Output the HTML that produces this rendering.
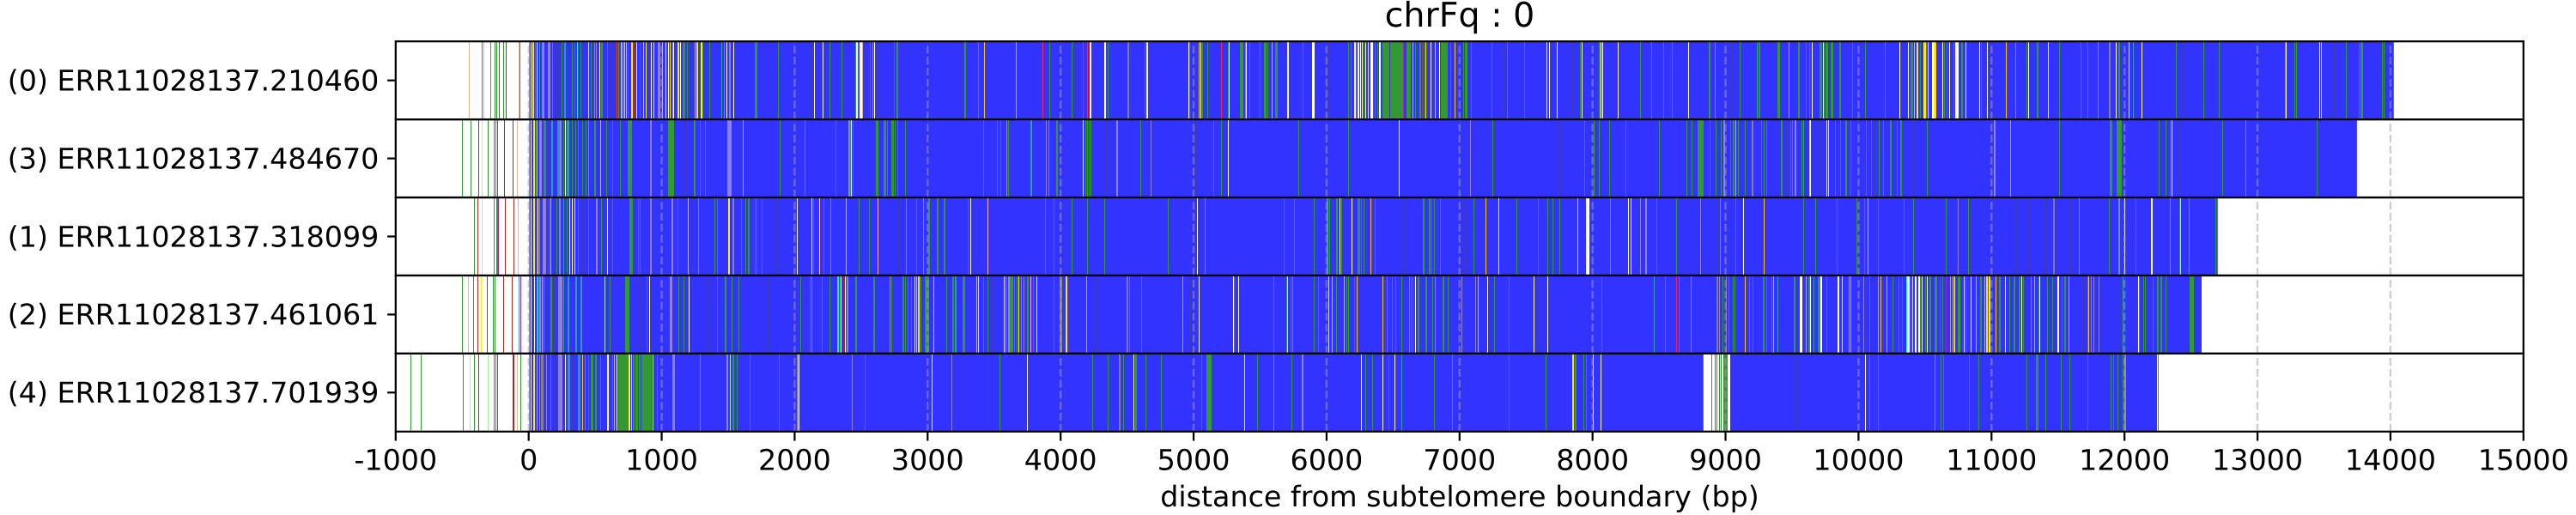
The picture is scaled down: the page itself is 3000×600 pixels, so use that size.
<!DOCTYPE html>
<html lang="en">
<head>
<meta charset="utf-8">
<title>chrFq : 0</title>
<style>
html,body{margin:0;padding:0;background:#fff;width:3000px;height:600px;overflow:hidden}
svg{display:block;text-rendering:geometricPrecision}
text{font-family:"DejaVu Sans","Liberation Sans",sans-serif;fill:#000}
</style>
</head>
<body>
<svg id="chart" xmlns="http://www.w3.org/2000/svg" width="3000" height="600" viewBox="0 0 3000 600">
<rect x="0" y="0" width="3000" height="600" fill="#fff"/>
<g id="panels"></g>
<g id="xaxis"></g>
<g id="yaxis"></g>
<text x="1700" y="31" font-size="39.6" text-anchor="middle">chrFq : 0</text>
<text x="1700" y="590" font-size="33.33" text-anchor="middle">distance from subtelomere boundary (bp)</text>
</svg>
<script>
const readLabels = ["(0) ERR11028137.210460","(3) ERR11028137.484670","(1) ERR11028137.318099","(2) ERR11028137.461061","(4) ERR11028137.701939"];
const readStarts = [5,5,5,5,5];
const readEnds = [14023,13748,12701,12580,12254];
const xTicks = [-1000,0,1000,2000,3000,4000,5000,6000,7000,8000,9000,10000,11000,12000,13000,14000,15000];
const guideLines = [0,1000,2000,3000,4000,5000,6000,7000,8000,9000,10000,11000,12000,13000,14000];

// each stripe: [start bp, length bp, k-mer class]
const read0Stripes = [[-447,6,'t'],[-350,6,'g'],[-340,6,'t'],[-286,6,'c'],[-254,6,'g'],[-241,6,'g'],[-221,6,'p'],[-189,6,'g'],[-172,6,'b'],[-77,6,'t'],[-67,8,'g'],
[17,6,'w'],[30,12,'y'],[47,6,'g'],[62,6,'w'],[80,6,'c'],[101,17,'l'],[144,22,'l'],[176,6,'c'],[198,6,'d'],[219,6,'d'],[247,6,'g'],[267,13,'c'],[295,6,'d'],[327,6,'g'],[344,6,'g'],[366,8,'a'],[391,6,'g'],[449,7,'w'],[467,6,'g'],[492,6,'l'],[505,6,'l'],[531,6,'w'],[542,10,'g'],[591,6,'g'],[606,6,'d'],[649,6,'d'],[660,6,'r'],[671,6,'g'],[692,6,'w'],[703,6,'y'],[720,6,'w'],[731,6,'y'],[746,6,'g'],[768,12,'y'],[789,6,'b'],[811,6,'w'],[838,6,'g'],[860,6,'y'],[881,6,'y'],[897,6,'d'],[918,6,'w'],[940,6,'w'],[972,22,'l'],[1002,6,'y'],[1026,6,'w'],[1047,6,'w'],[1058,6,'y'],[1079,15,'l'],[1090,6,'w'],[1116,12,'y'],[1140,6,'w'],[1161,22,'g'],[1193,6,'g'],[1219,6,'d'],[1251,6,'y'],[1264,10,'y'],[1294,10,'y'],[1305,6,'g'],[1359,6,'g'],[1451,7,'c'],[1466,6,'l'],[1484,6,'w'],[1509,10,'l'],[1542,6,'w'],
[1703,17,'g'],[1875,8,'g'],[2123,6,'d'],[2144,6,'w'],[2209,6,'w'],[2260,6,'g'],[2355,6,'g'],[2456,6,'g'],[2464,10,'w'],[2477,6,'g'],[2486,10,'w'],[2501,8,'w'],[2510,6,'t'],[2568,6,'g'],[2585,6,'l'],[2598,6,'w'],[2621,6,'d'],[2746,9,'r'],[2768,10,'g'],[3258,6,'d'],[3277,15,'g'],[3299,6,'d'],[3376,6,'w'],[3382,6,'c'],[3421,6,'o'],[3666,6,'o'],[3686,6,'d'],[3866,6,'r'],[3914,6,'g'],[4085,6,'g'],[4111,6,'d'],
[4168,6,'g'],[4202,6,'r'],[4217,11,'w'],[4329,11,'w'],[4355,6,'g'],[4505,13,'e'],[4630,6,'g'],[4645,11,'w'],[4789,6,'d'],[4959,6,'w'],[4966,6,'g'],[5041,6,'o'],[5054,6,'w'],[5064,6,'g'],[5103,6,'g'],[5204,6,'r'],[5258,6,'g'],[5267,6,'w'],[5348,28,'g'],[5387,6,'l'],[5396,7,'w'],[5419,6,'g'],[5499,6,'g'],[5527,17,'g'],[5555,6,'g'],[5589,6,'k'],[5615,17,'g'],[5703,11,'w'],[5817,6,'g'],[5892,20,'w'],[6010,6,'d'],
[6165,6,'g'],[6182,6,'g'],[6210,10,'w'],[6221,6,'g'],[6236,15,'w'],[6251,7,'w'],[6268,7,'w'],[6280,6,'g'],[6290,6,'w'],[6311,6,'w'],[6329,17,'w'],[6348,9,'p'],[6365,6,'g'],[6380,6,'g'],[6397,13,'w'],[6419,155,'g'],[6473,6,'d'],[6578,6,'p'],[6602,32,'g'],[6647,7,'k'],[6666,6,'g'],[6685,6,'d'],[6698,12,'g'],[6720,6,'p'],[6733,6,'g'],
[6746,7,'y'],[6779,6,'w'],[6813,6,'y'],[6830,6,'d'],[6847,6,'w'],[6860,54,'g'],[6931,6,'g'],[6946,6,'d'],[6963,6,'o'],[7028,6,'g'],[7043,21,'g'],[7086,6,'g'],[7241,6,'g'],[7340,6,'d'],[7357,6,'g'],[7488,6,'g'],[7630,6,'d'],[7654,6,'w'],[7671,6,'w'],[7731,6,'w'],[7841,6,'d'],[7907,6,'g'],[7917,6,'w'],[8046,15,'g'],[8060,6,'w'],[8075,6,'w'],[8191,6,'w'],[8359,6,'g'],[8441,6,'g'],[8531,6,'g'],[8595,6,'g'],[8718,6,'w'],[8875,10,'g'],[8918,6,'l'],[9043,6,'d'],[9105,6,'g'],[9176,6,'d'],[9236,6,'c'],[9247,10,'g'],
[9389,17,'g'],[9473,6,'a'],[9548,10,'g'],[9602,6,'g'],[9630,6,'g'],[9647,6,'w'],[9705,20,'g'],[9731,6,'w'],[9741,6,'g'],[9753,20,'g'],[9789,17,'g'],[9858,10,'g'],[9953,6,'g'],[9976,6,'d'],[10052,6,'g'],[10198,6,'g'],[10221,6,'d'],[10307,6,'w'],[10313,4,'p'],[10372,6,'w'],[10393,22,'g'],[10419,6,'y'],[10439,14,'y'],[10464,6,'g'],[10490,17,'y'],[10510,6,'g'],[10518,6,'w'],[10550,26,'w'],[10565,7,'y'],[10580,8,'o'],[10630,7,'w'],[10641,6,'g'],[10662,6,'g'],[10679,6,'w'],[10716,8,'g'],[10726,24,'w'],[10774,10,'g'],[10802,6,'w'],[10909,6,'w'],[10920,6,'g'],[10967,6,'w'],[11111,6,'o'],[11182,6,'l'],[11262,6,'g'],[11275,9,'w'],[11339,13,'g'],[11425,6,'w'],[11505,6,'g'],[11672,6,'g'],[11724,6,'g'],[11784,6,'d'],[11801,6,'l'],[11881,11,'e'],
[11935,8,'w'],[11953,10,'g'],[12030,6,'w'],[12062,6,'c'],[12131,6,'w'],[12389,6,'g'],[12441,6,'d'],[12596,6,'g'],[12712,6,'g'],[13206,6,'l'],[13215,6,'w'],[13258,6,'d'],[13275,6,'g'],[13290,7,'g'],[13462,6,'w'],[13479,6,'n'],[13576,6,'d'],[13666,6,'g'],[13759,6,'g'],[13776,17,'g'],[13937,6,'g'],[13948,6,'g'],[14017,6,'g']];

const read1Stripes = [[-501,6,'g'],[-436,6,'g'],[-378,6,'b'],[-353,6,'y'],[-307,6,'g'],[-262,6,'g'],[-249,6,'g'],[-236,6,'p'],[-183,6,'b'],[-120,6,'b'],[-86,6,'t'],
[17,6,'w'],[32,14,'y'],[52,6,'g'],[62,6,'a'],[80,20,'l'],[112,20,'g'],[145,6,'d'],[170,16,'c'],[215,20,'c'],[236,14,'l'],[262,6,'g'],[273,7,'w'],[284,22,'c'],[322,6,'g'],[348,6,'g'],[370,6,'g'],[402,6,'g'],[430,6,'g'],[445,6,'l'],[492,12,'g'],[537,6,'y'],[555,6,'d'],[585,6,'g'],[628,6,'g'],[684,6,'g'],[746,32,'g'],[914,11,'l'],[1047,43,'g'],[1176,6,'d'],[1245,13,'g'],[1284,6,'g'],[1327,6,'g'],[1363,6,'d'],[1402,6,'d'],[1492,30,'l'],
[1609,6,'a'],[1886,6,'g'],[2073,6,'c'],[2305,6,'g'],[2402,10,'l'],[2417,8,'g'],[2426,7,'w'],[2434,7,'g'],[2611,10,'g'],[2626,6,'g'],[2667,18,'g'],[2692,6,'g'],[2725,17,'g'],[2752,6,'g'],[2772,6,'g'],[2828,6,'g'],[2925,6,'d'],[3415,6,'g'],[3505,6,'d'],[3520,6,'g'],[3544,6,'g'],[3595,6,'l'],[3608,6,'g'],[3770,16,'c'],[3892,6,'l'],[3907,6,'l'],[3965,13,'g'],[4079,6,'d'],
[4166,6,'w'],[4187,6,'g'],[4200,6,'g'],[4215,6,'g'],[4226,6,'g'],[4344,6,'d'],[4420,11,'l'],[4602,6,'g'],[4680,6,'l'],[4841,6,'d'],[5015,6,'d'],[5150,6,'g'],[5208,6,'g'],[5260,6,'w'],[5789,6,'g'],[6163,6,'g'],[6544,6,'w'],[6595,6,'d'],
[7080,6,'l'],[7249,6,'g'],[7258,6,'d'],[7750,6,'d'],[7937,6,'g'],[8009,6,'g'],[8047,6,'g'],[8124,6,'g'],[8247,6,'g'],[8499,6,'g'],[8705,6,'g'],[8744,6,'g'],[8787,43,'g'],[8800,10,'g'],[8879,6,'g'],[8924,6,'g'],[8965,6,'g'],[8982,10,'l'],[9010,6,'d'],[9032,6,'g'],[9053,10,'g'],[9072,6,'k'],[9094,6,'g'],[9146,6,'g'],[9197,15,'e'],[9269,6,'g'],[9290,6,'g'],[9305,6,'g'],
[9413,12,'g'],[9454,6,'d'],[9487,6,'g'],[9502,6,'c'],[9518,12,'l'],[9570,6,'g'],[9585,6,'c'],[9632,6,'y'],[9638,8,'w'],[9699,6,'d'],[9759,6,'w'],[9770,6,'w'],[9822,6,'g'],[9860,6,'g'],[9903,10,'g'],[9938,6,'g'],[10054,6,'g'],[10092,6,'g'],[10112,6,'d'],[10150,6,'g'],[10183,6,'g'],[10239,12,'g'],[10290,6,'g'],[10316,10,'g'],[10411,6,'d'],[10512,6,'g'],[11017,12,'l'],[11137,6,'a'],[11511,6,'g'],[11595,6,'d'],[11888,17,'g'],
[11942,17,'g'],[11957,14,'g'],[11974,6,'g'],[12254,6,'g'],[12312,6,'g'],[12338,6,'g'],[12355,6,'w'],[12396,6,'d'],[12421,6,'d'],[12733,6,'g'],[12911,6,'l'],[13447,6,'g']];

const read2Stripes = [[-411,6,'g'],[-385,6,'b'],[-353,6,'y'],[-262,6,'g'],[-245,10,'g'],[-232,6,'p'],[-178,6,'b'],[-114,6,'b'],[-82,6,'t'],
[17,6,'w'],[32,14,'y'],[58,6,'g'],[69,6,'w'],[80,6,'l'],[105,30,'l'],[133,6,'d'],[148,6,'g'],[161,6,'y'],[181,6,'d'],[208,6,'g'],[226,6,'l'],[236,6,'l'],[262,6,'c'],[284,6,'g'],[307,6,'w'],[327,6,'w'],[344,8,'w'],[370,6,'g'],[402,6,'d'],[445,6,'g'],[505,11,'l'],[542,6,'g'],[589,6,'w'],[611,6,'d'],[628,6,'g'],[757,25,'g'],[823,8,'g'],[838,6,'g'],[914,11,'l'],[1071,13,'l'],[1118,6,'g'],[1196,6,'y'],[1213,6,'d'],[1277,6,'l'],[1396,6,'g'],[1417,6,'g'],[1501,10,'y'],[1535,16,'l'],
[1596,6,'g'],[1628,6,'g'],[1650,12,'g'],[1703,6,'g'],[1716,6,'g'],[1751,6,'g'],[1815,6,'d'],[1860,6,'d'],[2019,6,'w'],[2129,8,'w'],[2138,6,'g'],[2187,6,'k'],[2215,6,'g'],[2271,6,'l'],[2383,6,'k'],[2482,6,'g'],[2557,6,'g'],[2621,6,'k'],[2778,6,'d'],[2834,6,'l'],[2912,6,'g'],[2963,6,'l'],[3002,15,'g'],[3069,12,'g'],[3122,11,'g'],[3299,6,'g'],[3324,6,'w'],[3453,6,'k'],[3881,6,'g'],[3950,6,'g'],[4085,6,'g'],
[4168,6,'d'],[4200,6,'g'],[4331,6,'g'],[4809,6,'g'],[5028,6,'w'],[5086,6,'l'],[5679,6,'g'],[5757,6,'g'],[5905,6,'g'],[5998,15,'c'],[6021,6,'g'],[6069,10,'g'],[6099,6,'w'],[6112,6,'g'],[6185,6,'w'],[6230,22,'g'],[6258,6,'g'],[6279,6,'g'],[6333,6,'o'],[6363,6,'g'],[6574,8,'d'],[6635,6,'d'],[6722,11,'g'],
[6768,10,'g'],[6790,6,'g'],[6809,6,'g'],[6852,6,'g'],[7037,6,'d'],[7103,8,'g'],[7196,6,'o'],[7292,6,'w'],[7428,6,'g'],[7589,6,'g'],[7660,6,'g'],[7699,6,'g'],[7750,6,'g'],[7886,6,'k'],[7953,26,'w'],[8131,6,'l'],[8269,6,'w'],[8283,6,'w'],[8359,6,'l'],[8393,11,'l'],[8479,6,'g'],[8630,6,'g'],[8808,6,'l'],[8939,6,'d'],[8956,6,'l'],[9072,6,'g'],[9131,6,'w'],[9288,6,'o'],
[9583,6,'g'],[9674,6,'g'],[9834,6,'g'],[9985,6,'g'],[10041,6,'g'],[10067,6,'n'],[10144,6,'g'],[10316,6,'d'],[10340,6,'g'],[10408,6,'g'],[10654,6,'g'],[10744,6,'l'],[10823,6,'g'],[10838,6,'d'],[11185,6,'d'],[11275,6,'d'],[11404,6,'d'],[11462,10,'e'],[11584,6,'d'],[11659,6,'l'],[11881,6,'g'],
[11953,12,'s'],[12002,6,'w'],[12086,6,'g'],[12198,12,'w'],[12344,6,'l'],[12411,6,'g'],[12421,6,'k'],[12482,6,'l'],[12686,6,'g']];

const read3Stripes = [[-501,6,'g'],[-456,6,'t'],[-417,6,'g'],[-385,6,'b'],[-357,6,'y'],[-314,6,'p'],[-267,6,'g'],[-254,6,'g'],[-189,6,'b'],[-127,6,'b'],[-77,6,'c'],[-62,6,'p'],
[15,6,'w'],[43,8,'w'],[58,6,'l'],[65,6,'a'],[80,12,'l'],[101,6,'k'],[112,6,'l'],[133,6,'d'],[161,16,'g'],[181,6,'d'],[198,6,'d'],[219,30,'l'],[258,6,'c'],[295,16,'c'],[348,10,'c'],[391,13,'c'],[568,6,'n'],[611,6,'g'],[725,30,'g'],[828,6,'d'],[886,6,'g'],[907,6,'w'],[1058,18,'l'],[1124,6,'g'],[1167,6,'g'],[1202,6,'w'],[1348,6,'d'],[1417,6,'g'],[1473,13,'g'],[1527,6,'g'],
[1576,6,'g'],[1796,6,'d'],[2041,6,'g'],[2112,6,'g'],[2125,6,'l'],[2206,6,'g'],[2260,6,'g'],[2322,10,'a'],[2338,6,'g'],[2348,6,'w'],[2363,6,'b'],[2381,6,'w'],[2391,16,'l'],[2458,10,'g'],[2589,16,'g'],[2714,6,'l'],[2725,6,'g'],[2813,10,'g'],[2832,6,'g'],[2847,6,'g'],[2873,6,'g'],[2901,6,'w'],[2914,6,'y'],[2929,15,'y'],[2946,6,'g'],[2976,24,'g'],[3004,6,'g'],[3045,6,'n'],[3137,6,'g'],[3187,12,'g'],[3204,12,'c'],[3260,18,'g'],[3363,6,'k'],[3382,6,'w'],[3417,6,'g'],[3447,6,'g'],[3486,6,'d'],[3574,6,'w'],[3584,6,'a'],[3606,12,'l'],[3617,26,'g'],[3651,6,'g'],[3671,6,'g'],[3682,6,'y'],[3703,6,'l'],[3718,6,'l'],[3746,10,'g'],[3776,6,'k'],[3795,6,'g'],[3817,6,'w'],[3950,6,'g'],[3993,22,'e'],[4038,13,'y'],
[4190,6,'o'],[4261,6,'d'],[4495,6,'l'],[4505,6,'g'],[4518,6,'g'],[4608,6,'g'],[4913,6,'a'],[4977,16,'d'],[5041,6,'w'],[5297,6,'w'],[5304,5,'g'],[5333,6,'w'],[5602,6,'g'],[5699,6,'g'],[5705,6,'y'],[5731,6,'g'],[5744,6,'l'],[5845,6,'d'],[5905,6,'g'],[5937,6,'g'],[6015,6,'w'],[6041,6,'k'],[6073,6,'g'],[6131,6,'k'],[6151,6,'g'],[6165,6,'g'],[6204,6,'g'],[6228,6,'o'],[6363,6,'d'],[6419,6,'o'],[6453,6,'c'],[6492,6,'g'],[6516,6,'g'],[6563,6,'g'],[6619,6,'l'],[6634,6,'g'],[6645,6,'g'],[6664,6,'w'],[6685,13,'g'],
[6746,10,'g'],[6794,6,'g'],[6815,6,'l'],[6871,11,'g'],[6912,6,'g'],[7015,6,'l'],[7120,6,'l'],[7138,6,'k'],[7209,6,'w'],[7260,6,'g'],[7280,6,'d'],[7368,6,'g'],[7557,8,'w'],[7583,6,'d'],[7660,6,'w'],[7937,6,'d'],[8066,6,'g'],[8350,6,'d'],[8460,6,'c'],[8544,6,'g'],[8628,7,'r'],[8645,6,'g'],[8737,6,'l'],[8890,6,'d'],[8935,13,'e'],[8952,6,'l'],[8976,6,'g'],[9004,6,'e'],[9021,6,'g'],[9053,6,'g'],[9066,6,'g'],[9144,6,'o'],[9176,6,'g'],[9200,6,'g'],[9219,6,'d'],[9282,11,'g'],[9305,6,'g'],
[9346,6,'g'],[9355,6,'o'],[9389,6,'c'],[9424,6,'d'],[9510,12,'g'],[9555,20,'w'],[9602,6,'k'],[9620,12,'g'],[9637,6,'w'],[9662,6,'c'],[9695,20,'g'],[9712,10,'w'],[9757,6,'g'],[9845,10,'w'],[9877,6,'w'],[9929,6,'a'],[9938,6,'o'],[10037,6,'l'],[10080,6,'g'],[10146,6,'o'],[10163,6,'o'],[10209,6,'o'],[10254,6,'g'],[10301,6,'g'],[10329,6,'g'],[10357,6,'a'],[10368,20,'w'],[10393,6,'g'],[10404,6,'w'],[10426,10,'w'],[10447,10,'w'],[10460,6,'g'],[10475,6,'w'],[10501,6,'g'],[10516,6,'w'],[10533,12,'g'],[10570,22,'g'],[10608,6,'g'],[10630,6,'g'],[10658,6,'p'],[10690,6,'o'],[10705,6,'o'],[10720,6,'w'],[10748,20,'g'],[10791,8,'w'],[10802,6,'g'],[10819,6,'b'],[10845,6,'w'],[10879,6,'o'],[10916,10,'g'],[10948,6,'y'],[10959,12,'y'],[10980,12,'y'],[11028,6,'o'],[11055,10,'g'],[11099,6,'w'],[11135,6,'g'],[11163,10,'g'],[11204,12,'g'],[11221,6,'w'],[11236,6,'g'],[11296,6,'l'],[11320,6,'o'],[11350,6,'g'],[11361,6,'w'],[11419,6,'g'],[11454,6,'g'],[11496,12,'w'],[11526,6,'g'],[11548,16,'g'],[11578,6,'o'],[11690,6,'d'],[11722,14,'g'],[11730,4,'o'],[11744,6,'l'],[11769,6,'l'],[11808,6,'l'],
[11963,6,'d'],[11989,6,'c'],[12103,6,'w'],[12110,6,'g'],[12138,6,'g'],[12157,6,'g'],[12215,6,'g'],[12245,10,'g'],[12269,10,'g'],[12312,6,'g'],[12490,32,'g']];

const read4Stripes = [[-888,6,'g'],[-810,6,'g'],[-495,6,'g'],[-441,6,'k'],[-411,6,'g'],[-376,6,'b'],[-307,6,'n'],[-260,6,'g'],[-247,6,'g'],[-236,6,'p'],[-118,10,'b'],[-86,6,'t'],[-62,6,'g'],
[17,6,'w'],[32,14,'y'],[58,6,'a'],[80,6,'l'],[95,22,'e'],[133,6,'l'],[165,6,'c'],[198,6,'d'],[219,32,'l'],[273,7,'w'],[295,18,'c'],[327,6,'d'],[370,22,'c'],[404,6,'o'],[424,6,'c'],[445,6,'g'],[470,22,'g'],[499,10,'g'],[537,6,'g'],[587,12,'w'],[628,8,'g'],[639,6,'y'],[660,6,'w'],[671,30,'g'],[703,43,'g'],[748,10,'y'],[768,8,'y'],[783,16,'g'],[803,10,'g'],[817,6,'g'],[828,12,'g'],[845,10,'g'],[860,26,'g'],[888,36,'g'],[929,6,'n'],[961,6,'g'],[1079,18,'l'],[1183,6,'d'],[1286,6,'l'],[1363,6,'d'],[1488,14,'l'],[1514,6,'n'],[1535,10,'g'],[1565,6,'g'],
[1660,6,'g'],[1880,6,'g'],[2019,13,'l'],[2032,6,'w'],[2428,6,'l'],[2525,6,'g'],[3028,6,'w'],[3176,6,'l'],[3541,6,'g'],[3744,6,'w'],
[4195,6,'d'],[4235,6,'g'],[4357,6,'g'],[4439,10,'e'],[4473,6,'g'],[4546,6,'w'],[4561,12,'g'],[4641,6,'g'],[4757,6,'g'],[5060,6,'g'],[5097,39,'g'],[5383,6,'w'],[5479,6,'g'],[5602,6,'l'],[5735,6,'g'],[5813,10,'l'],[6260,6,'w'],[6292,6,'g'],[6344,6,'g'],[6421,6,'w'],[6466,6,'g'],[6512,6,'w'],[6563,6,'c'],
[6809,6,'g'],[6944,6,'c'],[7370,6,'g'],[7647,6,'g'],[7845,13,'y'],[7864,6,'g'],[7875,6,'g'],[7931,6,'g'],[7950,6,'g'],[8000,6,'w'],[8060,6,'w'],[8826,6,'g'],[8832,198,'w'],[8892,6,'g'],[8918,6,'g'],[8931,6,'g'],[8950,6,'g'],[8967,6,'g'],[8982,30,'g'],
[9533,6,'d'],[10047,6,'w'],[10080,6,'g'],[10144,6,'g'],[10572,6,'l'],[10617,6,'g'],[10634,6,'g'],[10830,6,'g'],[10901,6,'g'],[11266,6,'g'],[11331,18,'g'],[11404,6,'g'],[11518,6,'g'],[11583,6,'g'],[11724,6,'g'],[11898,6,'g'],
[11914,6,'g'],[11944,6,'g'],[11989,8,'g'],[12000,10,'l'],[12244,4,'w'],[12248,6,'g']];

const readStripes = [read0Stripes, read1Stripes, read2Stripes, read3Stripes, read4Stripes];

const xDomain = [-1000, 15000];
const xRange = [460.8, 2938.8];
const yRange = [48.2, 502.8];
const stripeColors = {g:'#339933',w:'#ffffff',y:'#ffee00',o:'#ffc800',r:'#ff2050',b:'#a52a2a',t:'#dcb99a',c:'#2a9fa8',p:'#a020d0',l:'#8f80e0',d:'#3c3cae',e:'#808090',k:'#ffb0ff',a:'#20f0ff',n:'#a0f0a0',s:'#6f90e0'};
const stripeNames = {g:'green',w:'white',y:'yellow',o:'orange',r:'red',b:'brown',t:'tan',c:'teal',p:'purple',l:'lavender',d:'dark',e:'gray',k:'pink',a:'cyan',n:'light-green',s:'steel'};

const NS = 'http://www.w3.org/2000/svg';
const panelsGroup = document.getElementById('panels');
const xAxisGroup = document.getElementById('xaxis');
const yAxisGroup = document.getElementById('yaxis');

function xScale(bp) {
  return xRange[0] + (bp - xDomain[0]) / (xDomain[1] - xDomain[0]) * (xRange[1] - xRange[0]);
}
function panelTop(i) {
  return yRange[0] + i * (yRange[1] - yRange[0]) / readLabels.length;
}
function panelHeight() {
  return (yRange[1] - yRange[0]) / readLabels.length;
}
function make(tag, parent, attrs) {
  const el = document.createElementNS(NS, tag);
  for (const k in attrs) el.setAttribute(k, attrs[k]);
  parent.appendChild(el);
  return el;
}

readLabels.forEach(function (label, i) {
  const top = panelTop(i);
  const h = panelHeight();
  const panel = make('g', panelsGroup, {});
  
  

  const bar = make('rect', panel, {x: xScale(readStarts[i]), y: top, width: xScale(readEnds[i]) - xScale(readStarts[i]), height: h, fill: '#3333ff'});
  
  

  readStripes[i].forEach(function (s) {
    const px = Math.round(xScale(s[0]));
    const pw = Math.max(1, Math.round(xScale(s[0] + s[1]) - xScale(s[0])));
    const stripe = make('rect', panel, {x: px, y: top, width: pw, height: h, fill: stripeColors[s[2]], 'shape-rendering': 'crispEdges'});
    
    
  });

  guideLines.forEach(function (bp) {
    const guide = make('line', panel, {x1: xScale(bp), x2: xScale(bp), y1: top + h, y2: top, stroke: '#a0a0a0', 'stroke-opacity': 0.5, 'stroke-width': 2.4, 'stroke-dasharray': '9 3.8'});
    
    
  });

  const frame = make('rect', panel, {x: xRange[0], y: top, width: xRange[1] - xRange[0], height: h, fill: 'none', stroke: '#000', 'stroke-width': 2.22});
  
  

  const tick = make('line', yAxisGroup, {x1: xRange[0] - 9.7, x2: xRange[0], y1: top + h / 2, y2: top + h / 2, stroke: '#000', 'stroke-width': 2.22});
  
  

  const text = make('text', yAxisGroup, {x: xRange[0] - 19.4, y: top + h / 2 + 11.8, 'font-size': 33.33, 'text-anchor': 'end'});
  text.textContent = label;
  
  
});

xTicks.forEach(function (bp) {
  const tick = make('line', xAxisGroup, {x1: xScale(bp), x2: xScale(bp), y1: yRange[1], y2: yRange[1] + 10.8, stroke: '#000', 'stroke-width': 2.22});
  
  

  const text = make('text', xAxisGroup, {x: xScale(bp), y: 547.5, 'font-size': 33.33, 'text-anchor': 'middle'});
  text.textContent = String(bp);
  
  
});
</script>
</body>
</html>
